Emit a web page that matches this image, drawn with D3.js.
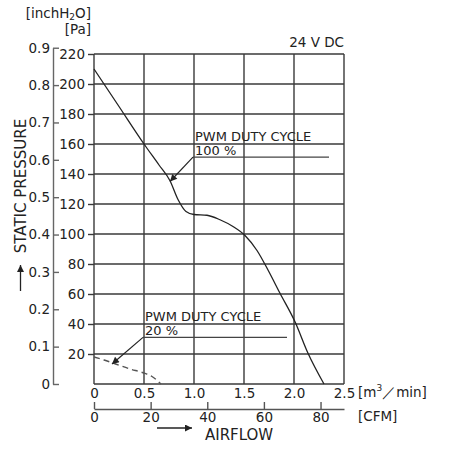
<!DOCTYPE html>
<html>
<head>
<meta charset="utf-8">
<script src="https://cdn.jsdelivr.net/npm/d3@7"></script>
<style>
  body { margin: 0; background: #fff; }
  text { font-family: "DejaVu Sans", Verdana, sans-serif; fill: #222; }
</style>
</head>
<body>
<div id="chart"></div>
<script>
// 100 % duty cycle curve (m3/min, Pa)
const flow100 = [0, 0.25, 0.5, 0.65, 0.76, 0.84, 0.92, 1.0, 1.13, 1.26, 1.39, 1.51, 1.63, 1.74, 1.86, 2.01, 2.14, 2.3];
const pa100 = [210, 185, 160, 146, 135.5, 123, 115, 113, 112.5, 109.5, 105, 99, 89, 76, 60.5, 41.5, 20.5, 0];
// 20 % duty cycle curve
const flow20 = [0, 0.1, 0.19, 0.36, 0.49, 0.58, 0.67];
const pa20 = [18, 16, 14, 10, 7.5, 5, 0];

const flowTicks = [0, 0.5, 1.0, 1.5, 2.0, 2.5];
const paTicks = [20, 40, 60, 80, 100, 120, 140, 160, 180, 200, 220];
const inchTicks = [0, 0.1, 0.2, 0.3, 0.4, 0.5, 0.6, 0.7, 0.8, 0.9];
const cfmTicks = [0, 20, 40, 60, 80];

const PA_PER_INCH = 249.089;
const M3_PER_CFM = 0.0283168;

const width = 451, height = 450;
const margin = { top: 54, bottom: 66, left: 94, right: 107 };
const plotW = width - margin.left - margin.right;
const plotH = height - margin.top - margin.bottom;

const svg = d3.select('#chart')
  .append('svg')
  .attr('width', width)
  .attr('height', height);

const x = d3.scaleLinear().domain([0, 2.5]).range([margin.left, margin.left + plotW]);
const y = d3.scaleLinear().domain([0, 220]).range([margin.top + plotH, margin.top]);
const yInch = d3.scaleLinear().domain([0, 0.9]).range([y(0), y(0.9 * PA_PER_INCH)]);
const xCfm = d3.scaleLinear().domain([0, 2.5 / M3_PER_CFM]).range(x.range());

const gridColor = '#3a3a3a';

// arrow marker
svg.append('defs').append('marker')
  .attr('id', 'arrow')
  .attr('viewBox', '0 0 10 10')
  .attr('refX', 10)
  .attr('refY', 5)
  .attr('markerWidth', 10)
  .attr('markerHeight', 7)
  .attr('markerUnits', 'userSpaceOnUse')
  .attr('orient', 'auto')
  .append('path')
  .attr('d', 'M0,0 L10,5 L0,10 Z')
  .attr('fill', '#222');

// grid
const grid = svg.append('g').attr('stroke', gridColor).attr('stroke-width', 1.4);
grid.selectAll('.vgrid')
  .data(flowTicks)
  .enter()
  .append('line')
  .attr('x1', d => x(d)).attr('x2', d => x(d))
  .attr('y1', y(0)).attr('y2', y(220));
grid.selectAll('.hgrid')
  .data([0].concat(paTicks))
  .enter()
  .append('line')
  .attr('x1', x(0)).attr('x2', x(2.5))
  .attr('y1', d => y(d)).attr('y2', d => y(d));

// Pa axis (inner)
const paAxis = d3.axisLeft(y)
  .tickValues(paTicks)
  .tickSizeInner(6)
  .tickSizeOuter(0)
  .tickPadding(3);
const gPa = svg.append('g')
  .attr('transform', `translate(${x(0)},0)`)
  .call(paAxis);
gPa.select('.domain').remove();
gPa.selectAll('line').attr('stroke', gridColor).attr('stroke-width', 1.4);
gPa.selectAll('text').attr('font-size', 13.5).attr('fill', '#222')
  .attr('font-family', '"DejaVu Sans", Verdana, sans-serif');

// inchH2O axis (outer)
const inchAxis = d3.axisLeft(yInch)
  .tickValues(inchTicks)
  .tickFormat(d => d === 0 ? '0' : d3.format('.1f')(d))
  .tickSizeInner(-6)
  .tickSizeOuter(0)
  .tickPadding(3);
const gIn = svg.append('g')
  .attr('transform', 'translate(53,0)')
  .call(inchAxis);
gIn.selectAll('line, path').attr('stroke', '#666').attr('stroke-width', 1.4);
gIn.selectAll('text').attr('font-size', 13.5).attr('fill', '#222')
  .attr('font-family', '"DejaVu Sans", Verdana, sans-serif');

// m3/min axis labels
const flowAxis = d3.axisBottom(x)
  .tickValues(flowTicks)
  .tickFormat(d => d === 0 ? '0' : d3.format('.1f')(d))
  .tickSize(0)
  .tickPadding(4);
const gFlow = svg.append('g')
  .attr('transform', `translate(0,${y(0)})`)
  .call(flowAxis);
gFlow.select('.domain').remove();
gFlow.selectAll('text').attr('font-size', 13.5).attr('fill', '#222')
  .attr('font-family', '"DejaVu Sans", Verdana, sans-serif');

// CFM axis
const cfmAxis = d3.axisBottom(xCfm)
  .tickValues(cfmTicks)
  .tickSizeInner(-7)
  .tickSizeOuter(0)
  .tickPadding(3);
const gCfm = svg.append('g')
  .attr('transform', 'translate(0,409)')
  .call(cfmAxis);
gCfm.selectAll('line, path').attr('stroke', '#555').attr('stroke-width', 1.4);
gCfm.selectAll('text').attr('font-size', 13.5).attr('fill', '#222')
  .attr('font-family', '"DejaVu Sans", Verdana, sans-serif');

// curves
const line = d3.line()
  .x(d => x(d[0]))
  .y(d => y(d[1]))
  .curve(d3.curveMonotoneX);

svg.append('path')
  .datum(flow100.map((f, i) => [f, pa100[i]]))
  .attr('d', line)
  .attr('fill', 'none')
  .attr('stroke', '#222')
  .attr('stroke-width', 1.3);

svg.append('path')
  .datum(flow20.map((f, i) => [f, pa20[i]]))
  .attr('d', line)
  .attr('fill', 'none')
  .attr('stroke', '#555')
  .attr('stroke-width', 1.4)
  .attr('stroke-dasharray', '6,4');

// annotations: label position, leader line, arrow tip (data units)
const notes = [
  { label: '100 %', lineY: 151.3, x0: 0.99, x1: 2.35, tipX: 0.76, tipY: 135 },
  { label: '20 %', lineY: 31.1, x0: 0.49, x1: 1.93, tipX: 0.18, tipY: 13.3 }
];
notes.forEach(n => {
  const g = svg.append('g');
  g.append('line')
    .attr('x1', x(n.x0)).attr('x2', x(n.x1))
    .attr('y1', y(n.lineY)).attr('y2', y(n.lineY))
    .attr('stroke', '#444').attr('stroke-width', 1.2);
  g.append('line')
    .attr('x1', x(n.x0)).attr('y1', y(n.lineY))
    .attr('x2', x(n.tipX)).attr('y2', y(n.tipY))
    .attr('stroke', '#222').attr('stroke-width', 1.2)
    .attr('marker-end', 'url(#arrow)');
  g.append('text')
    .attr('x', x(n.x0) + 2).attr('y', y(n.lineY) - 16.5)
    .attr('font-size', 13)
    .text('PWM DUTY CYCLE');
  g.append('text')
    .attr('x', x(n.x0) + 2).attr('y', y(n.lineY) - 2)
    .attr('font-size', 13)
    .text(n.label);
});

// unit labels
const units = svg.append('text').attr('x', 91).attr('y', 18).attr('text-anchor', 'end').attr('font-size', 13.5);
units.append('tspan').text('[inchH');
units.append('tspan').attr('font-size', 9).attr('dy', 2).text('2');
units.append('tspan').attr('dy', -2).text('O]');

svg.append('text').attr('x', 91).attr('y', 34).attr('text-anchor', 'end').attr('font-size', 13.5).text('[Pa]');

svg.append('text').attr('x', x(2.5)).attr('y', 47).attr('text-anchor', 'end').attr('font-size', 13.5).text('24 V DC');

const m3 = svg.append('text').attr('x', 358).attr('y', 397).attr('font-size', 13.5);
m3.append('tspan').text('[m');
m3.append('tspan').attr('font-size', 9).attr('dy', -6).text('3');
m3.append('tspan').attr('dy', 6).text('／min]');

svg.append('text').attr('x', 358).attr('y', 421).attr('font-size', 13.5).text('[CFM]');

// axis titles with arrows
svg.append('text')
  .attr('transform', 'translate(26,186) rotate(-90)')
  .attr('text-anchor', 'middle')
  .attr('font-size', 15)
  .text('STATIC PRESSURE');
svg.append('line')
  .attr('x1', 20.5).attr('y1', 291)
  .attr('x2', 20.5).attr('y2', 265)
  .attr('stroke', '#222').attr('stroke-width', 1.3)
  .attr('marker-end', 'url(#arrow)');

svg.append('text')
  .attr('x', 205).attr('y', 440)
  .attr('font-size', 15)
  .text('AIRFLOW');
svg.append('line')
  .attr('x1', 157).attr('y1', 428)
  .attr('x2', 192).attr('y2', 428)
  .attr('stroke', '#222').attr('stroke-width', 1.3)
  .attr('marker-end', 'url(#arrow)');
</script>
</body>
</html>
